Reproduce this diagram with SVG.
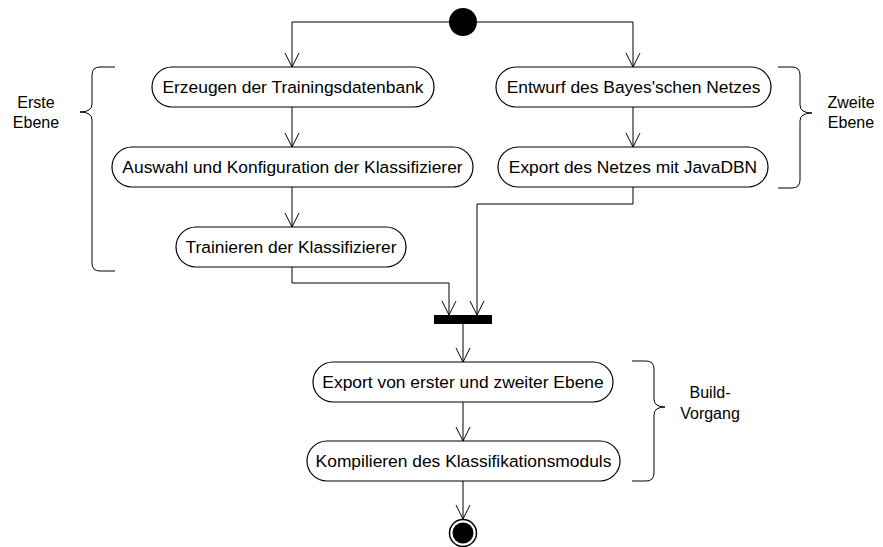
<svg xmlns="http://www.w3.org/2000/svg" width="883" height="547" viewBox="0 0 883 547">
  <defs>
    <style>
      .act { fill: #fff; stroke: #000; stroke-width: 1.2; }
      .lbl { font-family: "Liberation Sans", Arial, sans-serif; font-size: 17.4px; fill: #000; text-anchor: middle; }
      .note { font-family: "Liberation Sans", Arial, sans-serif; font-size: 16px; fill: #000; text-anchor: middle; }
      .edge { fill: none; stroke: #000; stroke-width: 1; }
      .brace { fill: none; stroke: #000; stroke-width: 1; }
    </style>
    <!-- open V arrowhead, drawn along +x so orient="auto" follows the line -->
    <marker id="open" viewBox="-16 -9 18 18" markerWidth="18" markerHeight="18" refX="0" refY="0" orient="auto" markerUnits="userSpaceOnUse">
      <path d="M-14,-7 L0,0 L-14,7" fill="none" stroke="#000" stroke-width="1"/>
    </marker>
  </defs>
  <rect width="883" height="547" fill="#fff"/>

  <!-- connectors -->
  <g id="connectors">
    <path class="edge" d="M449,22 H292 V67" marker-end="url(#open)"/>
    <path class="edge" d="M477,22 H633 V67" marker-end="url(#open)"/>
    <path class="edge" d="M292,107 V147" marker-end="url(#open)"/>
    <path class="edge" d="M292,187 V227" marker-end="url(#open)"/>
    <path class="edge" d="M292,267 V283 H449 V315" marker-end="url(#open)"/>
    <path class="edge" d="M633,107 V147" marker-end="url(#open)"/>
    <path class="edge" d="M633,187 V204 H477 V315" marker-end="url(#open)"/>
    <path class="edge" d="M463,324 V362" marker-end="url(#open)"/>
    <path class="edge" d="M463,402 V441" marker-end="url(#open)"/>
    <path class="edge" d="M463,481 V519" marker-end="url(#open)"/>
  </g>

  <!-- start / fork-join / end -->
  <g id="start">
    <circle cx="463" cy="22" r="14" fill="#000"/>
  </g>
  <g id="join">
    <rect x="434" y="315" width="58" height="9" fill="#000"/>
  </g>
  <g id="end">
    <circle cx="463" cy="533" r="13.5" fill="#fff" stroke="#000" stroke-width="1.5"/>
    <circle cx="463" cy="533" r="10.5" fill="#000"/>
  </g>

  <!-- activities -->
  <g id="n-trainingsdb">
    <rect class="act" x="152" y="67" width="282" height="40" rx="20"/>
    <text class="lbl" x="293" y="93">Erzeugen der Trainingsdatenbank</text>
  </g>
  <g id="n-auswahl">
    <rect class="act" x="112" y="147" width="361" height="40" rx="20"/>
    <text class="lbl" x="292.5" y="173">Auswahl und Konfiguration der Klassifizierer</text>
  </g>
  <g id="n-trainieren">
    <rect class="act" x="176" y="227" width="230" height="40" rx="20"/>
    <text class="lbl" x="291" y="253">Trainieren der Klassifizierer</text>
  </g>
  <g id="n-bayes">
    <rect class="act" x="496" y="67" width="275" height="40" rx="20"/>
    <text class="lbl" x="633.5" y="93">Entwurf des Bayes'schen Netzes</text>
  </g>
  <g id="n-javadbn">
    <rect class="act" x="498" y="147" width="270" height="40" rx="20"/>
    <text class="lbl" x="633" y="173">Export des Netzes mit JavaDBN</text>
  </g>
  <g id="n-export">
    <rect class="act" x="313" y="362" width="300" height="40" rx="20"/>
    <text class="lbl" x="463" y="388">Export von erster und zweiter Ebene</text>
  </g>
  <g id="n-kompilieren">
    <rect class="act" x="307" y="441" width="313" height="40" rx="20"/>
    <text class="lbl" x="463.5" y="467">Kompilieren des Klassifikationsmoduls</text>
  </g>

  <!-- grouping braces -->
  <g id="brace-erste">
    <path class="brace" d="M115,67 H100 Q92,67 92,75 V104 Q92,112 80,112 Q92,112 92,120 V263 Q92,271 100,271 H115"/>
    <text class="note" x="36" y="108">Erste</text>
    <text class="note" x="36" y="128">Ebene</text>
  </g>
  <g id="brace-zweite">
    <path class="brace" d="M778,67 H792 Q800,67 800,75 V105 Q800,113 812,113 Q800,113 800,121 V180 Q800,188 792,188 H778"/>
    <text class="note" x="851" y="108">Zweite</text>
    <text class="note" x="851" y="128">Ebene</text>
  </g>
  <g id="brace-build">
    <path class="brace" d="M632,361 H646 Q654,361 654,369 V399 Q654,407 665,407 Q654,407 654,415 V473 Q654,481 646,481 H632"/>
    <text class="note" x="710" y="398">Build-</text>
    <text class="note" x="710" y="419">Vorgang</text>
  </g>
</svg>
